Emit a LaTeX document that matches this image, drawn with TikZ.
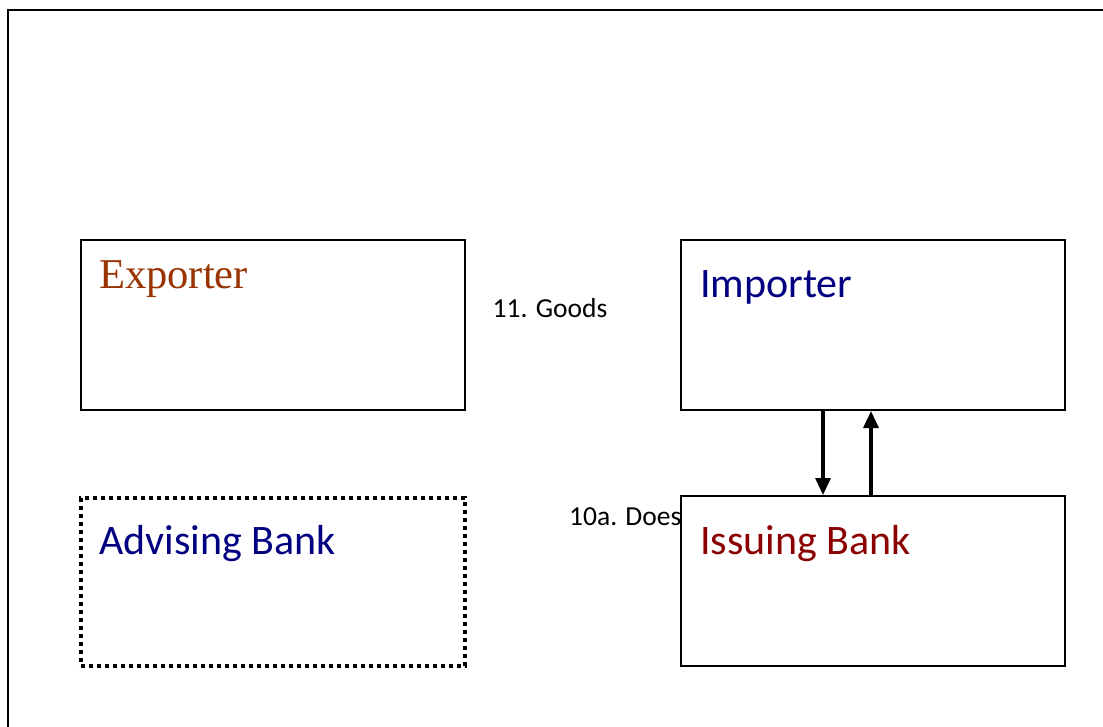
\documentclass[tikz,border=0pt]{standalone}
\usepackage{fontspec}
\setmainfont{Carlito}
\newfontfamily\serifface{Liberation Serif}
\usetikzlibrary{arrows.meta}
\definecolor{expbrown}{RGB}{153,51,0}
\definecolor{navytxt}{RGB}{0,0,128}
\definecolor{issred}{RGB}{139,0,0}
\tikzset{
  partybox/.style={draw=black, line width=2pt, fill=white},
  dotbox/.style={draw=black, line width=4pt, dash pattern=on 4pt off 4pt, fill=white},
  title/.style={anchor=base west, inner sep=0pt, font=\fontsize{42}{48}\selectfont},
  lbl/.style={anchor=base west, inner sep=0pt, font=\fontsize{27.5}{32}\selectfont},
  flow/.style={line width=3.2pt, -{Triangle[width=15pt,length=17pt]}}
}
\begin{document}
\begin{tikzpicture}[x=1pt,y=-1pt]
\clip (0,0) rectangle (1103,727);
\fill[white] (0,0) rectangle (1103,727);
\draw[line width=2pt] (7.5,1200) -- (7.5,10.5) -- (1200,10.5);
% labels under boxes
\node[lbl] (goods) at (492.5,317.5) {11. Goods};
\node[lbl] (does) at (569,525) {10a. Does};
% boxes
\node[partybox, minimum width=384pt, minimum height=170pt, anchor=north west, inner sep=0pt] (exp) at (80,239) {};
\node[partybox, minimum width=384pt, minimum height=170pt, anchor=north west, inner sep=0pt] (imp) at (680,239) {};
\node[dotbox, minimum width=384pt, minimum height=168pt, anchor=north west, inner sep=0pt] (adv) at (79,496) {};
\node[partybox, minimum width=384pt, minimum height=170pt, anchor=north west, inner sep=0pt] (iss) at (680,495) {};
% titles
\node[title, font=\serifface\fontsize{42.5}{48}\selectfont, text=expbrown] (expt) at (99,289) {Exporter};
\node[title, text=navytxt] (impt) at (700,298) {Importer};
\node[title, text=navytxt] (advt) at (99,554) {Advising Bank};
\node[title, text=issred] (isst) at (700,554) {Issuing Bank};
% arrows
\coordinate (a1s) at (823,409);
\coordinate (a1e) at (823,495);
\coordinate (a2s) at (871,495);
\coordinate (a2e) at (871,409);
\draw[flow] (imp.south -| a1s) -- (iss.north -| a1e);
\draw[flow] (iss.north -| a2s) -- (imp.south -| a2e);
\end{tikzpicture}
\end{document}
